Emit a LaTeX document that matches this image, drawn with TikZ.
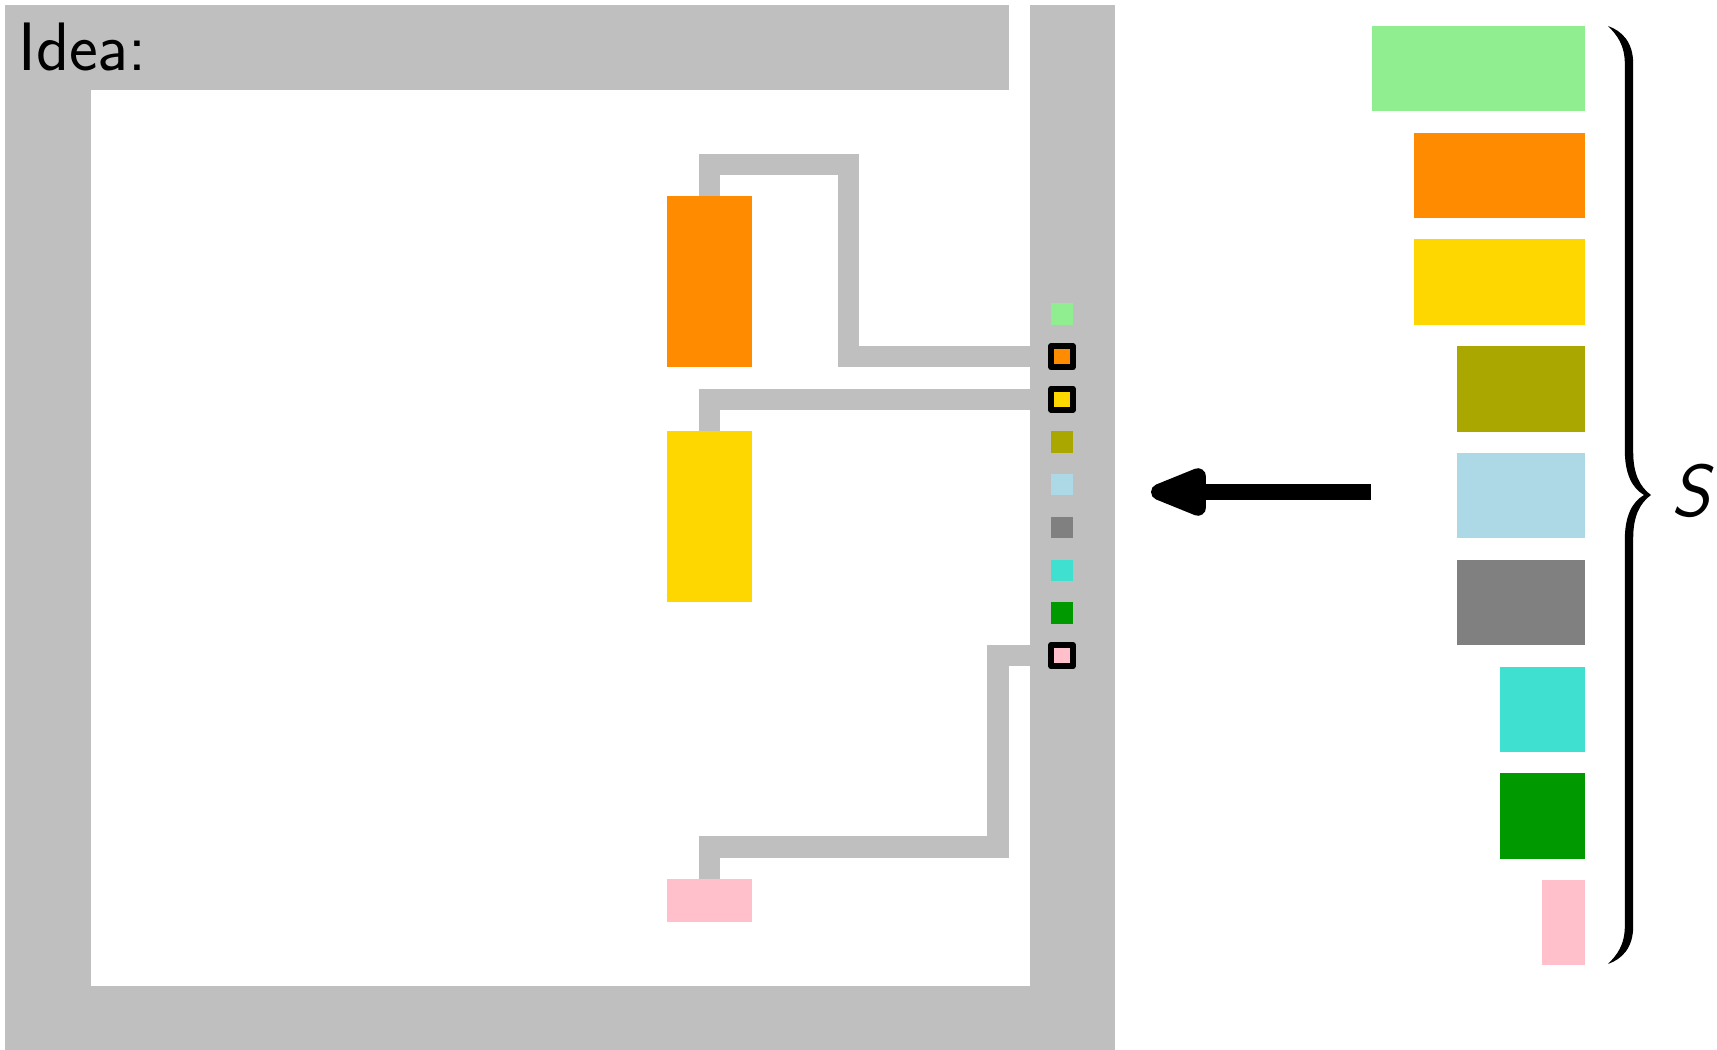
\documentclass[tikz,border=0pt]{standalone}
\usepackage{fix-cm}
\usepackage{fontspec}
\usetikzlibrary{arrows.meta,calc}
\definecolor{cgreen}{RGB}{144,238,144}
\definecolor{corange}{RGB}{255,140,0}
\definecolor{cyellow}{RGB}{255,215,0}
\definecolor{colive}{RGB}{170,168,0}
\definecolor{cblue}{RGB}{173,216,230}
\definecolor{cgray}{RGB}{128,128,128}
\definecolor{cturq}{RGB}{64,224,208}
\definecolor{cdgreen}{RGB}{0,153,0}
\definecolor{cpink}{RGB}{255,192,203}
\definecolor{framegray}{RGB}{191,191,191}
\begin{document}
\begin{tikzpicture}[x=0.02cm,y=-0.02cm,
  framepart/.style={fill=framegray},
  wire/.style={draw=framegray, line width=0.427cm, line join=miter, line cap=butt},
  blk/.style={draw=none, inner sep=0pt, outer sep=0pt, minimum height=1.708cm},
  lblk/.style={draw=none, inner sep=0pt, outer sep=0pt, minimum width=1.708cm, anchor=north west},
  sq/.style={draw=none, inner sep=0pt, outer sep=0pt, minimum size=0.427cm},
  sqhl/.style={sq, draw=black, line width=0.12cm, line join=round},
  bigarrow/.style={line width=0.32cm, -{Triangle[length=1.42cm, width=1.0cm, round]}}
]
\useasboundingbox (0,0) rectangle (1717,1050);

% frame
\fill[framegray] (5,5) rectangle (1009,90);
\fill[framegray] (5,5) rectangle (91,1050);
\fill[framegray] (5,986) rectangle (1115,1050);
\fill[framegray] (1030,5) rectangle (1115,1050);

\node[anchor=base west, inner sep=0pt, font=\fontsize{39pt}{42pt}\selectfont\sffamily] (idea) at (18,71) {Idea:};

% left blocks
\node[lblk, fill=corange, minimum height=3.416cm] (oL) at (667,196) {};
\node[lblk, fill=cyellow, minimum height=3.416cm] (yL) at (667,431) {};
\node[lblk, fill=cpink, minimum height=0.854cm] (pL) at (667,879) {};

% small squares
\node[sq, fill=cgreen] (sq1) at (1062,314) {};
\node[sq, fill=corange] (sq2) at (1062,356.7) {};
\node[sq, fill=cyellow] (sq3) at (1062,399.4) {};
\node[sq, fill=colive] (sq4) at (1062,442.1) {};
\node[sq, fill=cblue] (sq5) at (1062,484.8) {};
\node[sq, fill=cgray] (sq6) at (1062,527.5) {};
\node[sq, fill=cturq] (sq7) at (1062,570.2) {};
\node[sq, fill=cdgreen] (sq8) at (1062,612.9) {};
\node[sq, fill=cpink] (sq9) at (1062,655.6) {};

% wires
\draw[wire] (oL.north) |- (848.5,164.5) |- (sq2.west);
\draw[wire] (yL.north) |- (sq3.west);
\draw[wire] (pL.north) |- (998,847) |- (sq9.west);

% highlight borders on top
\node[sqhl, fill=corange] at (sq2) {};
\node[sqhl, fill=cyellow] at (sq3) {};
\node[sqhl, fill=cpink] at (sq9) {};

% right blocks
\node[blk, anchor=north east, fill=cgreen, minimum width=4.27cm] (r1) at (1585,26) {};
\node[blk, anchor=north east, fill=corange, minimum width=3.416cm] (r2) at (1585,132.75) {};
\node[blk, anchor=north east, fill=cyellow, minimum width=3.416cm] (r3) at (1585,239.5) {};
\node[blk, anchor=north east, fill=colive, minimum width=2.562cm] (r4) at (1585,346.25) {};
\node[blk, anchor=north east, fill=cblue, minimum width=2.562cm] (r5) at (1585,453) {};
\node[blk, anchor=north east, fill=cgray, minimum width=2.562cm] (r6) at (1585,559.75) {};
\node[blk, anchor=north east, fill=cturq, minimum width=1.708cm] (r7) at (1585,666.5) {};
\node[blk, anchor=north east, fill=cdgreen, minimum width=1.708cm] (r8) at (1585,773.25) {};
\node[blk, anchor=north east, fill=cpink, minimum width=0.854cm] (r9) at (1585,880) {};

% arrow
\coordinate (arrS) at (1371,492);
\coordinate (arrE) at (1151,492);
\draw[bigarrow] (arrS) -- (arrE);

% brace
\fill[black] (1608,26)
 .. controls (1622,31) and (1633.2,42) .. (1633.2,64)
 -- (1633.2,452)
 .. controls (1633.2,474) and (1640,487) .. (1651,495)
 .. controls (1640,503) and (1633.2,516) .. (1633.2,538)
 -- (1633.2,926)
 .. controls (1633.2,948) and (1622,959) .. (1608,964)
 .. controls (1617,955) and (1624.8,945) .. (1624.8,926)
 -- (1624.8,540)
 .. controls (1624.8,516) and (1632,502) .. (1644,495)
 .. controls (1632,488) and (1624.8,474) .. (1624.8,450)
 -- (1624.8,64)
 .. controls (1624.8,45) and (1617,35) .. (1608,26)
 -- cycle;

\node[inner sep=0pt, font=\fontsize{42pt}{45pt}\selectfont\sffamily\itshape] (S) at (1691,491) {S};
\end{tikzpicture}
\end{document}
